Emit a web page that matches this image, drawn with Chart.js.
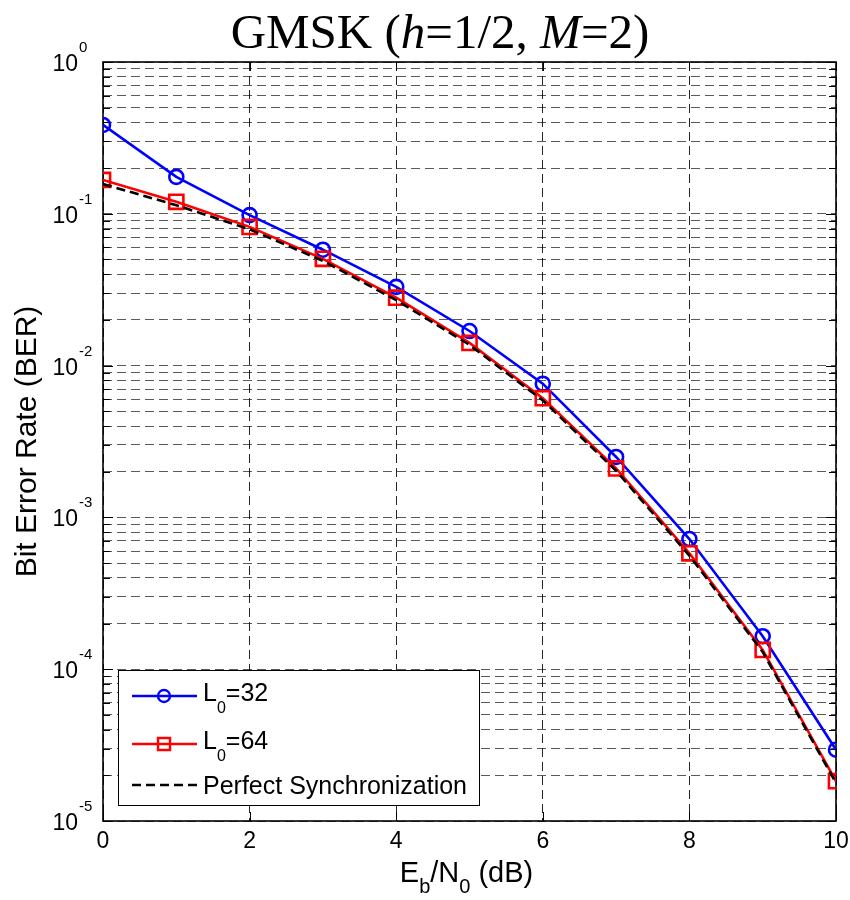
<!DOCTYPE html>
<html>
<head>
<meta charset="utf-8">
<title>GMSK BER</title>
<script src="https://cdn.jsdelivr.net/npm/chart.js@4.4.0/dist/chart.umd.min.js"></script>
<style>
  html, body { margin: 0; padding: 0; background: #fff; }
  #wrap { width: 850px; height: 900px; position: relative; }
</style>
</head>
<body>
<div id="wrap"><canvas id="berChart"></canvas></div>
<script>
// Eb/N0 (dB)
var ebn0 = [0, 1, 2, 3, 4, 5, 6, 7, 8, 9, 10];
// BER values
var berL32 = [0.385, 0.175, 0.098, 0.058, 0.033, 0.0169, 0.0076, 0.0025, 7.2e-4, 1.65e-4, 2.95e-5];
var berL64 = [0.167, 0.12, 0.082, 0.0505, 0.028, 0.0141, 0.0061, 0.0021, 5.8e-4, 1.34e-4, 1.83e-5];
var berPerfect = [0.157, 0.114, 0.079, 0.049, 0.027, 0.0137, 0.0059, 0.00203, 5.6e-4, 1.3e-4, 1.78e-5];

var seriesNames = ['L_0=32', 'L_0=64', 'Perfect Synchronization'];
var xTicks = [0, 2, 4, 6, 8, 10];
var yExponents = [-5, -4, -3, -2, -1, 0];
var yMinorSteps = [2, 3, 4, 5, 6, 7, 8, 9];

var SANS = '"Liberation Sans", Arial, Helvetica, sans-serif';
var SERIF = '"Liberation Serif", "Times New Roman", serif';

// all y grid values: 1..9 x 10^e
var yTickValues = [];
yExponents.forEach(function (e) {
    yTickValues.push(Math.pow(10, e));
    if (e < 0) {
        yMinorSteps.forEach(function (m) { yTickValues.push(m * Math.pow(10, e)); });
    }
});

function pts(ys) {
    return ebn0.map(function (x, i) { return { x: x, y: ys[i] }; });
}

// text with one-char subscripts written as _c
function drawSubText(ctx, text, x, y, size, subSize, subDrop, align) {
    var parts = [];
    for (var i = 0; i < text.length; i++) {
        if (text[i] === '_' && i + 1 < text.length) {
            parts.push({ t: text[i + 1], sub: true });
            i++;
        } else {
            if (parts.length && !parts[parts.length - 1].sub) parts[parts.length - 1].t += text[i];
            else parts.push({ t: text[i], sub: false });
        }
    }
    var total = 0;
    parts.forEach(function (p) {
        ctx.font = (p.sub ? subSize : size) + 'px ' + SANS;
        p.w = ctx.measureText(p.t).width;
        total += p.w;
    });
    var cx = align === 'center' ? x - total / 2 : x;
    ctx.textAlign = 'left';
    ctx.textBaseline = 'alphabetic';
    parts.forEach(function (p) {
        ctx.font = (p.sub ? subSize : size) + 'px ' + SANS;
        ctx.fillText(p.t, cx, p.sub ? y + subDrop : y);
        cx += p.w;
    });
}

var matlabLook = {
    id: 'matlabLook',
    beforeDatasetsDraw: function (chart) {
        var ctx = chart.ctx, a = chart.chartArea;
        var xs = chart.scales.x, ys = chart.scales.y;
        ctx.save();
        ctx.strokeStyle = '#000';
        ctx.lineWidth = 1;
        ctx.beginPath();
        yTickValues.forEach(function (v) {
            var py = Math.round(ys.getPixelForValue(v)) + 0.5;
            var len = Math.abs(Math.log10(v) - Math.round(Math.log10(v))) < 1e-9 ? 10 : 7;
            ctx.moveTo(a.left, py); ctx.lineTo(a.left + len, py);
            ctx.moveTo(a.right, py); ctx.lineTo(a.right - len, py);
        });
        xTicks.forEach(function (v) {
            var px = Math.round(xs.getPixelForValue(v)) + 0.5;
            ctx.moveTo(px, a.bottom); ctx.lineTo(px, a.bottom - 9);
            ctx.moveTo(px, a.top); ctx.lineTo(px, a.top + 9);
        });
        ctx.stroke();
        ctx.lineWidth = 1.6;
        ctx.strokeRect(a.left, a.top, a.right - a.left, a.bottom - a.top);
        ctx.restore();
    },
    afterDraw: function (chart) {
        var ctx = chart.ctx, a = chart.chartArea;
        var xs = chart.scales.x, ys = chart.scales.y;
        ctx.save();
        ctx.fillStyle = '#000';

        // x tick labels
        ctx.font = '23px ' + SANS;
        ctx.textAlign = 'center';
        ctx.textBaseline = 'alphabetic';
        xTicks.forEach(function (v) {
            ctx.fillText(String(v), xs.getPixelForValue(v), a.bottom + 27);
        });

        // y tick labels 10^e
        yExponents.forEach(function (e) {
            var py = ys.getPixelForValue(Math.pow(10, e));
            ctx.textBaseline = 'alphabetic';
            ctx.font = '23px ' + SANS;
            ctx.textAlign = 'right';
            ctx.fillText('10', 78, py + 9);
            ctx.font = '15px ' + SANS;
            ctx.textAlign = 'left';
            ctx.fillText(String(e), 79, py - 10);
        });

        // x axis title
        drawSubText(ctx, 'E_b/N_0 (dB)', (a.left + a.right) / 2 - 3, 882, 29, 20, 11, 'center');

        // title with italic parts
        var titleParts = [['GMSK (', false], ['h', true], ['=1/2, ', false], ['M', true], ['=2)', false]];
        var tw = 0;
        titleParts.forEach(function (p) {
            ctx.font = (p[1] ? 'italic ' : '') + '49px ' + SERIF;
            p.w = ctx.measureText(p[0]).width;
            tw += p.w;
        });
        var tx = 440 - tw / 2;
        ctx.textAlign = 'left';
        ctx.textBaseline = 'alphabetic';
        titleParts.forEach(function (p) {
            ctx.font = (p[1] ? 'italic ' : '') + '49px ' + SERIF;
            ctx.fillText(p[0], tx, 48);
            tx += p.w;
        });

        // legend box inside the axes
        var bx = 118, by = 670, bw = 361, bh = 135;
        ctx.fillStyle = '#fff';
        ctx.fillRect(bx, by, bw, bh);
        ctx.strokeStyle = '#000';
        ctx.lineWidth = 1;
        ctx.strokeRect(bx + 0.5, by + 0.5, bw, bh);
        var rowY = [696, 744, 785];
        chart.data.datasets.forEach(function (ds, i) {
            var ly = rowY[i];
            ctx.save();
            ctx.strokeStyle = ds.borderColor;
            ctx.lineWidth = ds.borderWidth;
            ctx.setLineDash(ds.borderDash || []);
            ctx.beginPath();
            ctx.moveTo(132, ly); ctx.lineTo(197, ly);
            ctx.stroke();
            ctx.restore();
            if (ds.pointRadius > 0) {
                ctx.save();
                ctx.strokeStyle = ds.borderColor;
                ctx.lineWidth = 2.4;
                ctx.beginPath();
                if (ds.pointStyle === 'circle') ctx.arc(164, ly, 6, 0, Math.PI * 2);
                else ctx.rect(158, ly - 6, 12, 12);
                ctx.stroke();
                ctx.restore();
            }
            ctx.fillStyle = '#000';
            var base = i < 2 ? ly + 5 : ly + 9;
            drawSubText(ctx, ds.label, 203, base, 25, 16, 12, 'left');
        });
        ctx.restore();
    }
};

var ctx = document.getElementById('berChart').getContext('2d');
var berChart = new Chart(ctx, {
    type: 'line',
    data: {
        datasets: [
            {
                label: seriesNames[0],
                data: pts(berL32),
                borderColor: '#0000ff',
                borderWidth: 2.6,
                pointStyle: 'circle',
                pointRadius: 7,
                pointBorderWidth: 2.6,
                pointBackgroundColor: 'rgba(0,0,0,0)',
                pointBorderColor: '#0000ff',
                tension: 0,
                order: 2
            },
            {
                label: seriesNames[1],
                data: pts(berL64),
                borderColor: '#ff0000',
                borderWidth: 2.6,
                pointStyle: 'rect',
                pointRadius: 10,
                pointBorderWidth: 2.6,
                pointBackgroundColor: 'rgba(0,0,0,0)',
                pointBorderColor: '#ff0000',
                tension: 0,
                order: 1
            },
            {
                label: seriesNames[2],
                data: pts(berPerfect),
                borderColor: '#000000',
                borderWidth: 2.6,
                borderDash: [9, 5],
                pointRadius: 0,
                tension: 0,
                order: 0
            }
        ]
    },
    options: {
        responsive: true,
        maintainAspectRatio: false,
        animation: false,
        layout: { padding: { top: 62, right: 14, left: 0, bottom: 0 } },
        scales: {
            x: {
                type: 'linear',
                min: 0,
                max: 10,
                afterBuildTicks: function (axis) {
                    axis.ticks = xTicks.map(function (v) { return { value: v }; });
                },
                ticks: { display: false },
                grid: { color: 'rgba(0,0,0,0.85)', lineWidth: 1, drawTicks: false },
                border: { display: false, dash: [9, 5] },
                afterFit: function (s) { s.height = 79; }
            },
            y: {
                type: 'logarithmic',
                min: 1e-5,
                max: 1,
                afterBuildTicks: function (axis) {
                    axis.ticks = yTickValues.map(function (v) { return { value: v }; });
                },
                ticks: { display: false, autoSkip: false },
                grid: { color: 'rgba(0,0,0,0.65)', lineWidth: 1, drawTicks: false },
                border: { display: false, dash: [9, 5] },
                title: {
                    display: true,
                    text: 'Bit Error Rate (BER)',
                    color: '#000',
                    font: { family: SANS, size: 30 },
                    padding: { top: 10, bottom: 0 }
                },
                afterFit: function (s) { s.width = 103; }
            }
        },
        plugins: {
            legend: { display: false },
            tooltip: { enabled: false }
        }
    },
    plugins: [matlabLook]
});
</script>
</body>
</html>
